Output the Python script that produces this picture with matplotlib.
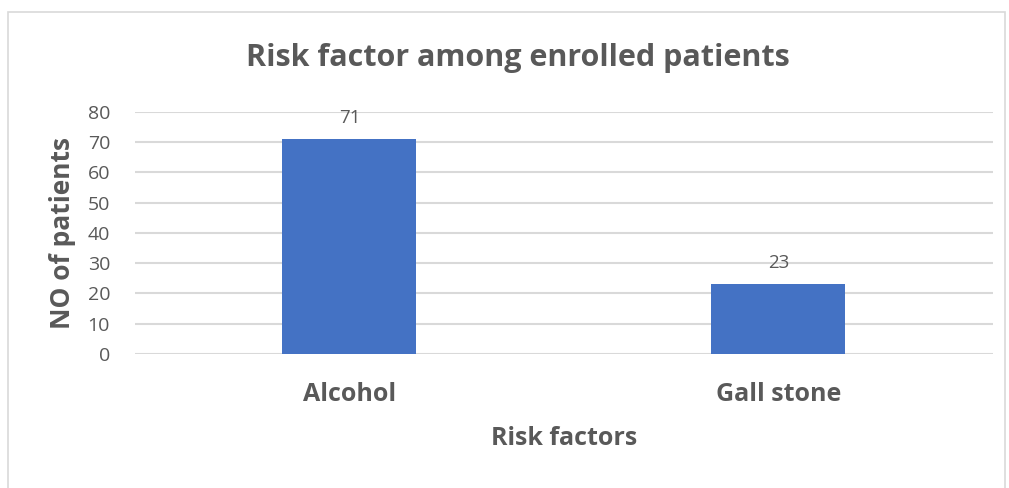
import matplotlib.pyplot as plt
from matplotlib.patches import Rectangle

factors = ["Alcohol", "Gall stone"]
patients = [71, 23]
yticks = [0, 10, 20, 30, 40, 50, 60, 70, 80]

plt.rcParams['font.family'] = ['Open Sans', 'DejaVu Sans']
grey = '#595959'

fig = plt.figure(figsize=(10.09, 4.88), dpi=100)
ax = fig.add_axes([0.1338, 0.2746, 0.8502, 0.4959])

x = range(len(factors))
bars = ax.bar(x, patients, width=0.3125, color='#4472C4', zorder=3)
for b, v in zip(bars, patients):
    ax.text(b.get_x() + b.get_width() / 2, v + 4, str(v), ha='center', va='bottom',
            fontsize=13.5, color=grey)

ax.set_xlim(-0.5, 1.5)
ax.set_ylim(0, 80)
ax.set_yticks(yticks)
ax.set_xticks(list(x))
ax.set_xticklabels(factors, fontsize=18, fontweight='bold', color=grey)
ax.tick_params(axis='y', labelsize=14, labelcolor=grey, length=0, pad=18)
ax.tick_params(axis='x', length=0, pad=20)
ax.grid(axis='y', color='#d9d9d9', linewidth=1.5, zorder=0)
for s in ax.spines.values():
    s.set_visible(False)

ax.set_xlabel("Risk factors", fontsize=18, fontweight='bold', color=grey, labelpad=14)
ax.set_ylabel("NO of patients", fontsize=19, fontweight='bold', color=grey, labelpad=8)
fig.text(0.5135, 0.881, "Risk factor among enrolled patients", ha='center', va='center',
         fontsize=22, fontweight='bold', color=grey)

fig.patches.append(Rectangle((8 / 1009, -0.01), 997 / 1009, 1 - 12 / 488 + 0.01,
                             transform=fig.transFigure, fill=False,
                             edgecolor='#d9d9d9', linewidth=1.2))

fig.savefig('out.png', dpi=100)
